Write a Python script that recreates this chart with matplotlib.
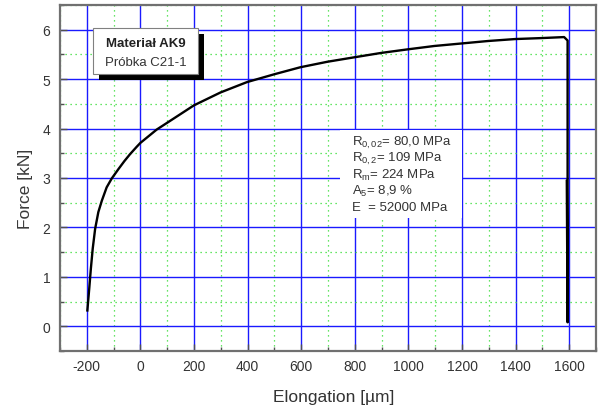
import matplotlib
matplotlib.use("Agg")
import matplotlib.pyplot as plt
from matplotlib.patches import Rectangle
from matplotlib.ticker import MultipleLocator

plt.rcParams['font.family'] = ['Liberation Sans', 'DejaVu Sans']
plt.rcParams['mathtext.fontset'] = 'custom'
plt.rcParams['mathtext.rm'] = 'Liberation Sans'
plt.rcParams['mathtext.it'] = 'Liberation Sans'
plt.rcParams['axes.unicode_minus'] = False

# Data
elongation = [-198, -191, -185, -178, -169, -157, -144, -126, -107, -82, -60, -39, -14,
              0, 61, 98, 200, 299, 398, 501, 597, 697, 797, 899, 995, 1097, 1197,
              1296, 1398, 1498, 1581, 1594, 1594, 1591]
force = [0.32, 0.76, 1.16, 1.57, 1.97, 2.31, 2.54, 2.81, 2.99, 3.18, 3.34, 3.48, 3.63,
         3.71, 3.98, 4.11, 4.47, 4.73, 4.94, 5.10, 5.24, 5.35, 5.44, 5.53, 5.60, 5.67, 5.72,
         5.77, 5.81, 5.83, 5.85, 5.78, 0.08, 2.94]

x_ticks = [-200, 0, 200, 400, 600, 800, 1000, 1200, 1400, 1600]
y_ticks = [0, 1, 2, 3, 4, 5, 6]

title_lines = ["Materiał AK9", "Próbka C21-1"]
stats_lines = [r"R$_{0,02}$= 80,0 MPa", r"R$_{0,2}$= 109 MPa", r"R$_{m}$= 224 MPa",
               r"A$_{5}$= 8,9 %", r"E  = 52000 MPa"]

fig = plt.figure(figsize=(5.99, 4.10), dpi=100)
ax = fig.add_axes([0.1002, 0.1415, 0.8948, 0.844])

ax.set_xlim(-300, 1700)
ax.set_ylim(-0.5, 6.5)
ax.set_xticks(x_ticks)
ax.set_yticks(y_ticks)
ax.xaxis.set_minor_locator(MultipleLocator(100))
ax.yaxis.set_minor_locator(MultipleLocator(0.5))
ax.set_axisbelow(True)
ax.grid(which='major', color='#1a1aff', linewidth=1.0, linestyle='-')
ax.grid(which='minor', color='#33dd33', linewidth=0.9, linestyle=(0, (1, 3)))

for s in ax.spines.values():
    s.set_color('#707070')
    s.set_linewidth(1.6)

ax.tick_params(which='both', direction='in', color='#505050', labelcolor='#333333',
               labelsize=10)
ax.tick_params(which='major', length=5, width=1)
ax.tick_params(which='minor', length=3, width=1)
ax.tick_params(axis='y', pad=7)
ax.tick_params(axis='x', pad=6)

ax.set_xlabel("Elongation [µm]", fontsize=12.5, color='#333333')
ax.set_ylabel("Force [kN]", fontsize=12.5, color='#3a3a3a')
ax.xaxis.set_label_coords(0.51, -0.11)
ax.yaxis.set_label_coords(-0.05, 0.47)

# white background behind stats
ax.add_patch(Rectangle((745, 2.2), 455, 1.78, facecolor='white', edgecolor='none', zorder=1.5))

ax.plot(elongation, force, color='black', linewidth=1.7, zorder=3,
        solid_joinstyle='round')

# title box with shadow
ax.add_patch(Rectangle((-176 + 22, 5.11 - 0.12), 390, 0.93, facecolor='black',
                       edgecolor='none', zorder=4))
ax.add_patch(Rectangle((-176, 5.11), 390, 0.93, facecolor='white',
                       edgecolor='#808080', linewidth=0.8, zorder=5))
ax.text(19, 5.74, title_lines[0], ha='center', va='center', fontsize=9.5,
        fontweight='bold', color='#222222', zorder=6)
ax.text(19, 5.35, title_lines[1], ha='center', va='center', fontsize=9.5,
        color='#333333', zorder=6)

for i, line in enumerate(stats_lines):
    ax.text(790, 3.72 - 0.325 * i, line, ha='left', va='center', fontsize=9.5,
            color='#333333', zorder=6)

fig.savefig("out.png", dpi=100)
